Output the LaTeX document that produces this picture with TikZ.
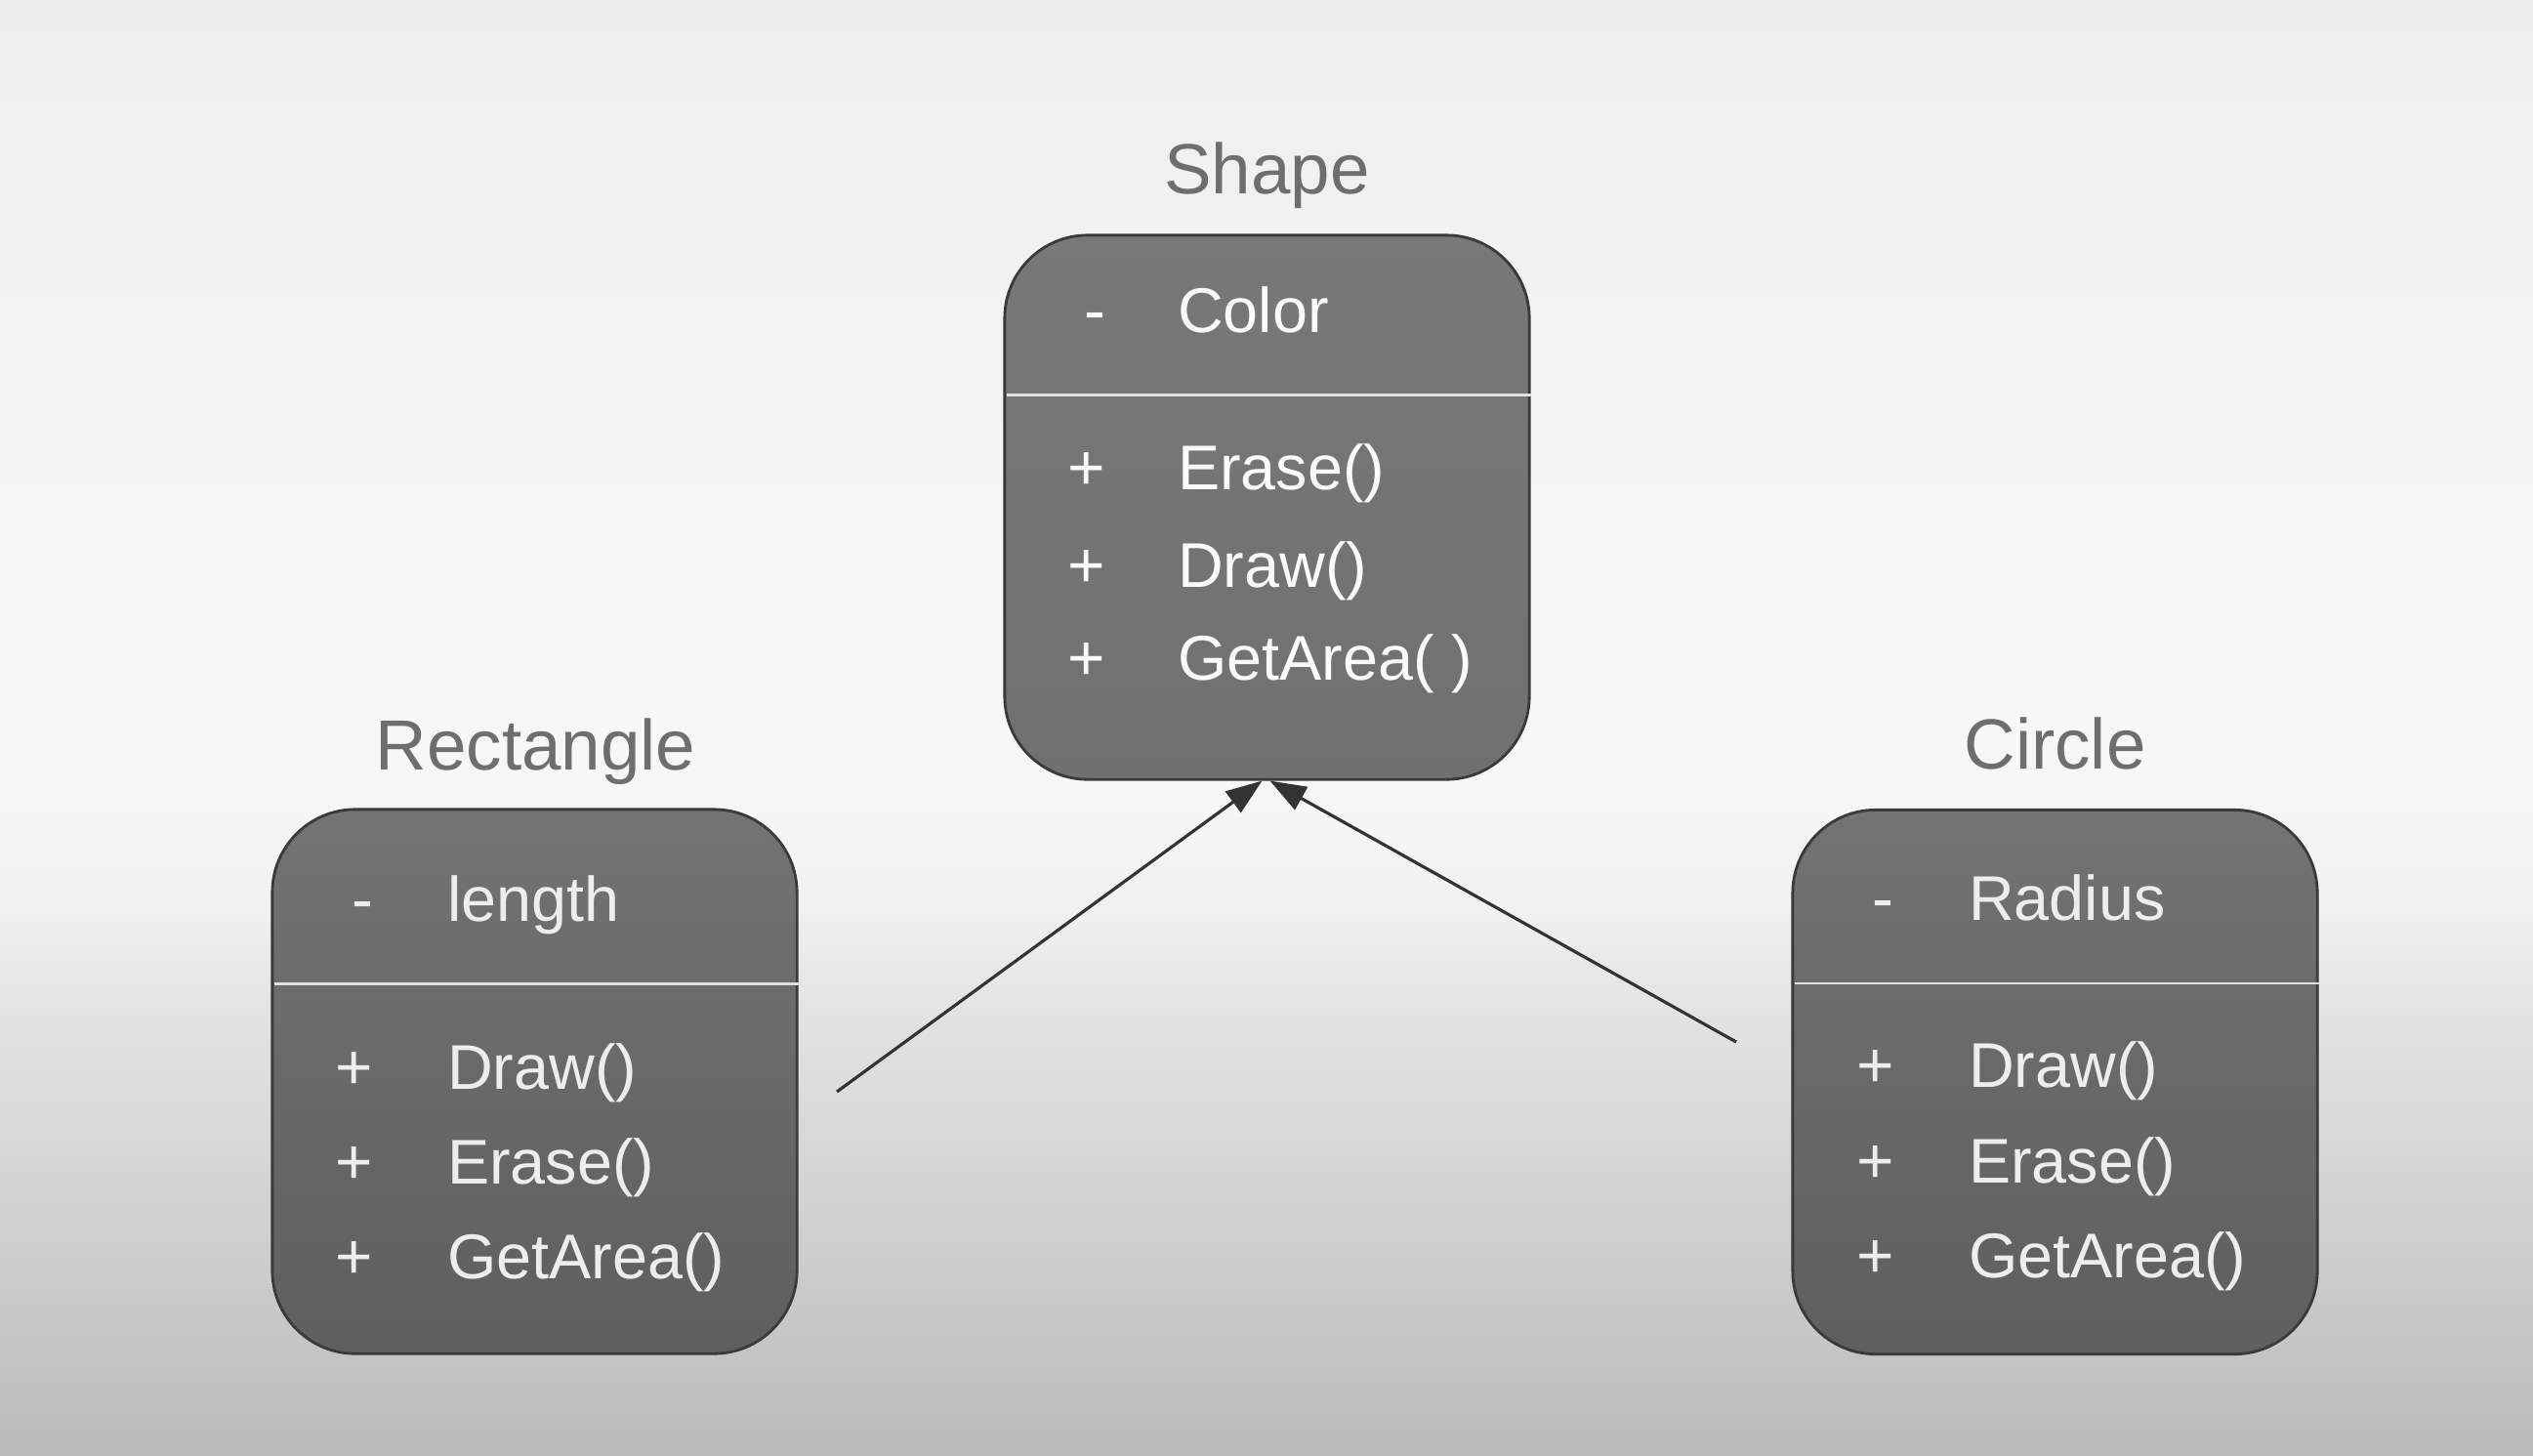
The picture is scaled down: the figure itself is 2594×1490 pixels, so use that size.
\documentclass[tikz,border=0pt]{standalone}
\usepackage{fontspec}
\setmainfont{Liberation Sans}
\usetikzlibrary{calc,arrows.meta}
\definecolor{bgtop}{HTML}{EEEEEE}
\definecolor{bglight}{HTML}{F7F7F7}
\definecolor{bgnear}{HTML}{F1F1F1}
\definecolor{bgmid}{HTML}{E2E2E2}
\definecolor{bgmidb}{HTML}{CFCFCF}
\definecolor{bgbot}{HTML}{BABABA}
\definecolor{boxedge}{HTML}{3A3A3A}
\definecolor{titlegray}{HTML}{6E6E6E}
\definecolor{linegray}{HTML}{333333}
\pgfdeclareverticalshading{bgshade}{100bp}{color(0bp)=(bgbot); color(25bp)=(bgbot); color(32.5bp)=(bgmidb); color(40bp)=(bgmid); color(44bp)=(bgnear); color(48bp)=(bglight); color(55bp)=(bglight); color(75bp)=(bgtop); color(100bp)=(bgtop)}
\begin{document}
\begin{tikzpicture}[x=0.01cm,y=-0.01cm,
  classbox/.style={rectangle, draw=boxedge, line width=0.8pt, rounded corners=0.85cm,
    minimum width=5.37cm, minimum height=5.57cm, inner sep=0pt},
  topbox/.style={classbox, top color=black!53, bottom color=black!56},
  lowbox/.style={classbox, top color=black!55, bottom color=black!63},
  title/.style={text=titlegray, font=\fontsize{20.7}{24}\selectfont, anchor=base, inner sep=0pt},
  mtext/.style={font=\fontsize{18.4}{22}\selectfont, anchor=base west, inner sep=0pt},
  msym/.style={font=\fontsize{18.7}{22}\selectfont, anchor=base, inner sep=0pt},
  divider/.style={draw=white!88!black, line width=0.75pt},
  arr/.style={draw=linegray, line width=0.9pt, -{Triangle[length=10.5pt, width=7.5pt]}}
]
\useasboundingbox (0,0) rectangle (2594,1490);
\shade[shading=bgshade] (0,0) rectangle (2594,1490);

% class boxes
\node[topbox] (shape) at (1297.5,519.5) {};
\node[lowbox] (rect) at (547.5,1107.5) {};
\node[lowbox] (circ) at (2104.5,1108) {};

% titles
\node[title] (shapetitle) at ($(shape.north)+(0,-41)$) {Shape};
\node[title] (recttitle) at ($(rect.north)+(1,-39)$) {Rectangle};
\node[title] (circtitle) at ($(circ.north)+(0,-40)$) {Circle};

% Shape contents
\begin{scope}[every node/.append style={text=black!2}]
\node[msym] (s0s) at ($(shape.north west)+(94,101)$) {-};
\node[mtext] (s0) at ($(shape.north west)+(178,101)$) {Color};
\draw[divider] ($(shape.north west)+(4,165)$) -- ($(shape.north east)+(0,165)$);
\node[msym] (s1s) at ($(shape.north west)+(85,262)$) {+};
\node[mtext] (s1) at ($(shape.north west)+(178,262)$) {Erase()};
\node[msym] (s2s) at ($(shape.north west)+(85,362)$) {+};
\node[mtext] (s2) at ($(shape.north west)+(178,362)$) {Draw()};
\node[msym] (s3s) at ($(shape.north west)+(85,457)$) {+};
\node[mtext] (s3) at ($(shape.north west)+(178,457)$) {GetArea( )};
\end{scope}

% Rectangle contents
\begin{scope}[every node/.append style={text=black!7}]
\node[msym] (r0s) at ($(rect.north west)+(94,116)$) {-};
\node[mtext] (r0) at ($(rect.north west)+(180,116)$) {length};
\draw[divider] ($(rect.north west)+(4,180)$) -- ($(rect.north east)+(0,180)$);
\node[msym] (r1s) at ($(rect.north west)+(85,288)$) {+};
\node[mtext] (r1) at ($(rect.north west)+(180,288)$) {Draw()};
\node[msym] (r2s) at ($(rect.north west)+(85,385)$) {+};
\node[mtext] (r2) at ($(rect.north west)+(180,385)$) {Erase()};
\node[msym] (r3s) at ($(rect.north west)+(85,482)$) {+};
\node[mtext] (r3) at ($(rect.north west)+(180,482)$) {GetArea()};
\end{scope}

% Circle contents
\begin{scope}[every node/.append style={text=black!7}]
\node[msym] (c0s) at ($(circ.north west)+(94,115)$) {-};
\node[mtext] (c0) at ($(circ.north west)+(181,115)$) {Radius};
\draw[divider] ($(circ.north west)+(4,179)$) -- ($(circ.north east)+(0,179)$);
\node[msym] (c1s) at ($(circ.north west)+(86,286)$) {+};
\node[mtext] (c1) at ($(circ.north west)+(181,286)$) {Draw()};
\node[msym] (c2s) at ($(circ.north west)+(86,384)$) {+};
\node[mtext] (c2) at ($(circ.north west)+(181,384)$) {Erase()};
\node[msym] (c3s) at ($(circ.north west)+(86,481)$) {+};
\node[mtext] (c3) at ($(circ.north west)+(181,481)$) {GetArea()};
\end{scope}

% connectors
\coordinate (lstart) at (857,1118);
\coordinate (rstart) at (1778,1067);
\coordinate (ltip) at ($(shape.south)+(-5,0)$);
\coordinate (rtip) at ($(shape.south)+(3,0)$);
\draw[arr] (lstart) -- (ltip);
\draw[arr] (rstart) -- (rtip);
\end{tikzpicture}
\end{document}
